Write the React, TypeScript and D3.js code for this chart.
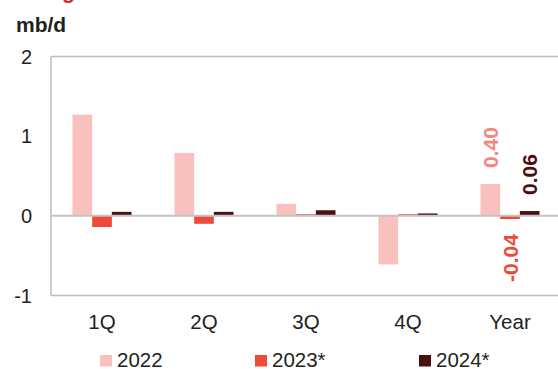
import React from "react";
import * as d3 from "d3";

const categories = ["1Q", "2Q", "3Q", "4Q", "Year"];
const seriesNames = ["2022", "2023*", "2024*"];
const values2022 = [1.27, 0.79, 0.15, -0.61, 0.40];
const values2023 = [-0.14, -0.10, 0.02, 0.02, -0.04];
const values2024 = [0.05, 0.05, 0.07, 0.03, 0.06];
const yTicks = [-1, 0, 1, 2];
const colors = ["#f8c1bd", "#ee4a3a", "#4a1010"];
const labelColors = ["#f2877e", "#ee4a3a", "#4a1010"];

const W = 558;
const H = 369;
const FONT = "'Liberation Sans', Arial, sans-serif";

export default function App() {
  const series = [values2022, values2023, values2024];
  const x = d3.scaleBand<string>().domain(categories).range([51, 561]).padding(0);
  const xs = d3
    .scaleBand<string>()
    .domain(seriesNames)
    .range([0, x.bandwidth()])
    .paddingInner(0)
    .paddingOuter(1.09);
  const y = d3.scaleLinear().domain([-1, 2]).range([295.5, 56.5]);
  const y0 = y(0);

  const lastIdx = categories.length - 1;

  return (
    <svg
      width={W}
      height={H}
      style={{ position: "fixed", left: 0, top: 0, background: "#fff" }}
      fontFamily={FONT}
    >
      {/* heading, mostly above the top edge */}
      <text x={13} y={-0.8} fill="#d2232a" fontSize={21} fontWeight="bold">
        change
      </text>
      <text x={16} y={32} fill="#231f20" fontSize={21} fontWeight="bold">
        mb/d
      </text>

      {/* plot frame */}
      <line x1={51} x2={W} y1={y(2)} y2={y(2)} stroke="#bdbdbd" strokeWidth={1.5} />
      <line x1={51} x2={W} y1={y(-1)} y2={y(-1)} stroke="#bdbdbd" strokeWidth={1.5} />
      <line x1={51} x2={51} y1={y(2)} y2={y(-1)} stroke="#bdbdbd" strokeWidth={1.5} />

      {/* y tick labels */}
      {yTicks.map((t) => (
        <text
          key={t}
          x={32}
          y={y(t) + 7}
          textAnchor="end"
          fontSize={20}
          fill="#231f20"
        >
          {t}
        </text>
      ))}

      {/* bars */}
      {series.map((vals, si) =>
        vals.map((v, ci) => {
          const bx = (x(categories[ci]) as number) + (xs(seriesNames[si]) as number);
          return (
            <rect
              key={`${si}-${ci}`}
              x={bx}
              y={Math.min(y(v), y0)}
              width={xs.bandwidth()}
              height={Math.abs(y(v) - y0)}
              fill={colors[si]}
            />
          );
        })
      )}

      {/* zero line */}
      <line x1={51} x2={W} y1={y0} y2={y0} stroke="#c4c4c4" strokeWidth={2} />

      {/* value labels for the annual figures */}
      {series.map((vals, si) => {
        const v = vals[lastIdx];
        const cx =
          (x(categories[lastIdx]) as number) +
          (xs(seriesNames[si]) as number) +
          xs.bandwidth() / 2;
        const pos = v >= 0;
        const ty = pos ? y(v) - 16 : y(v) + 15;
        return (
          <text
            key={`lbl-${si}`}
            transform={`translate(${cx + 7.5},${ty}) rotate(-90)`}
            textAnchor={pos ? "start" : "end"}
            fontSize={21}
            fontWeight="bold"
            fill={labelColors[si]}
          >
            {v.toFixed(2)}
          </text>
        );
      })}

      {/* x labels */}
      {categories.map((c) => (
        <text
          key={c}
          x={(x(c) as number) + x.bandwidth() / 2}
          y={329}
          textAnchor="middle"
          fontSize={20.5}
          fill="#231f20"
        >
          {c}
        </text>
      ))}

      {/* legend */}
      {seriesNames.map((s, i) => {
        const lx = [100, 255, 419][i];
        return (
          <g key={s}>
            <rect x={lx} y={355} width={12} height={11.5} fill={colors[i]} />
            <text x={lx + 17} y={366.5} fontSize={20.5} fill="#231f20">
              {s}
            </text>
          </g>
        );
      })}
    </svg>
  );
}
